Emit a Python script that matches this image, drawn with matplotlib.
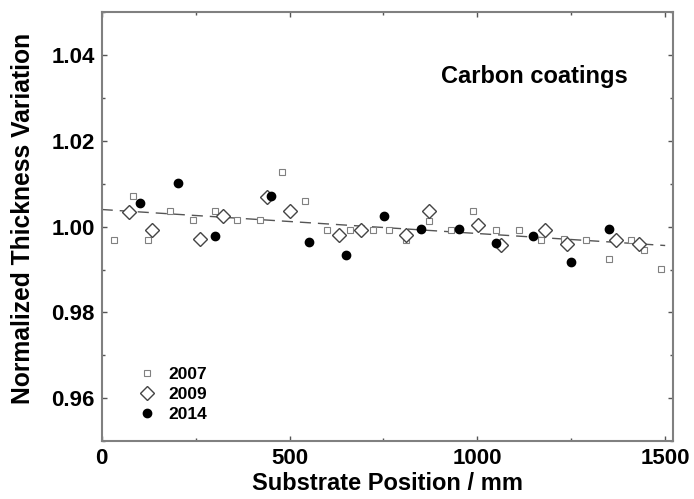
import matplotlib
matplotlib.use("Agg")
import matplotlib.pyplot as plt
from matplotlib.ticker import MultipleLocator

plt.rcParams['font.family'] = ['Liberation Sans', 'DejaVu Sans']
plt.rcParams['font.weight'] = 'bold'

# 2007 measurements (open squares)
x_2007 = [33, 83, 123, 183, 242, 302, 361, 421, 481, 542, 601, 662, 721, 765,
          810, 871, 931, 989, 1049, 1110, 1170, 1230, 1289, 1350, 1408, 1443, 1489]
y_2007 = [0.9970, 1.0071, 0.9970, 1.0037, 1.0015, 1.0037, 1.0015, 1.0015, 1.0128,
          1.0060, 0.9992, 0.9993, 0.9992, 0.9992, 0.9970, 1.0014, 0.9993, 1.0037,
          0.9992, 0.9992, 0.9969, 0.9971, 0.9970, 0.9925, 0.9969, 0.9946, 0.9901]

# 2009 measurements (open diamonds)
x_2009 = [72, 133, 261, 322, 439, 502, 632, 691, 810, 871, 1003, 1062, 1179,
          1239, 1369, 1431]
y_2009 = [1.0035, 0.9993, 0.9971, 1.0025, 1.0070, 1.0036, 0.9980, 0.9992, 0.9981,
          1.0036, 1.0003, 0.9958, 0.9992, 0.9959, 0.9970, 0.9960]

# 2014 measurements (filled circles)
x_2014 = [102, 203, 303, 452, 552, 651, 751, 851, 951, 1049, 1149, 1250, 1350]
y_2014 = [1.0055, 1.0101, 0.9979, 1.0071, 0.9965, 0.9933, 1.0025, 0.9994, 0.9994,
          0.9963, 0.9979, 0.9918, 0.9994]

# linear trend
trend_x = [0, 1500]
trend_y = [1.0040, 0.9956]

fig = plt.figure(figsize=(6.94, 4.99), dpi=100)
ax = fig.add_axes([0.1465, 0.1162, 0.8228, 0.8592])

ax.plot(trend_x, trend_y, color='#555555', lw=1.0, dashes=(8, 5), zorder=1)
ax.plot(x_2007, y_2007, 's', ms=4.3, mfc='white', mec='#808080', mew=0.8,
        ls='none', label='2007', zorder=2)
ax.plot(x_2009, y_2009, 'D', ms=6.8, mfc='white', mec='#444444', mew=1.0,
        ls='none', label='2009', zorder=3)
ax.plot(x_2014, y_2014, 'o', ms=6, mfc='black', mec='black',
        ls='none', label='2014', zorder=4)

ax.set_xlim(0, 1520)
ax.set_ylim(0.95, 1.05)
ax.xaxis.set_major_locator(MultipleLocator(500))
ax.xaxis.set_minor_locator(MultipleLocator(250))
ax.yaxis.set_major_locator(MultipleLocator(0.02))
ax.yaxis.set_minor_locator(MultipleLocator(0.01))
ax.yaxis.set_major_formatter(plt.FormatStrFormatter('%.2f'))

for s in ax.spines.values():
    s.set_color('#808080')
    s.set_linewidth(1.5)
ax.tick_params(which='both', direction='in', top=True, right=True,
               color='#555555', labelsize=16)
ax.tick_params(which='major', length=3.5, width=1, pad=5)
ax.tick_params(which='minor', length=2, width=1)

ax.set_xlabel('Substrate Position / mm', fontsize=17, fontweight='bold', labelpad=2)
ax.set_ylabel('Normalized Thickness Variation', fontsize=17.7, fontweight='bold')
ax.yaxis.set_label_coords(-0.116, 0.52)

ax.text(0.595, 0.85, 'Carbon coatings', transform=ax.transAxes,
        fontsize=17, fontweight='bold', va='center', ha='left')

ax.legend(loc='lower left', bbox_to_anchor=(0.04, 0.015), frameon=False,
          fontsize=12.5, handletextpad=0.6, labelspacing=0.3, handlelength=1.2,
          borderpad=0.2)

fig.savefig('out.png', dpi=100)
